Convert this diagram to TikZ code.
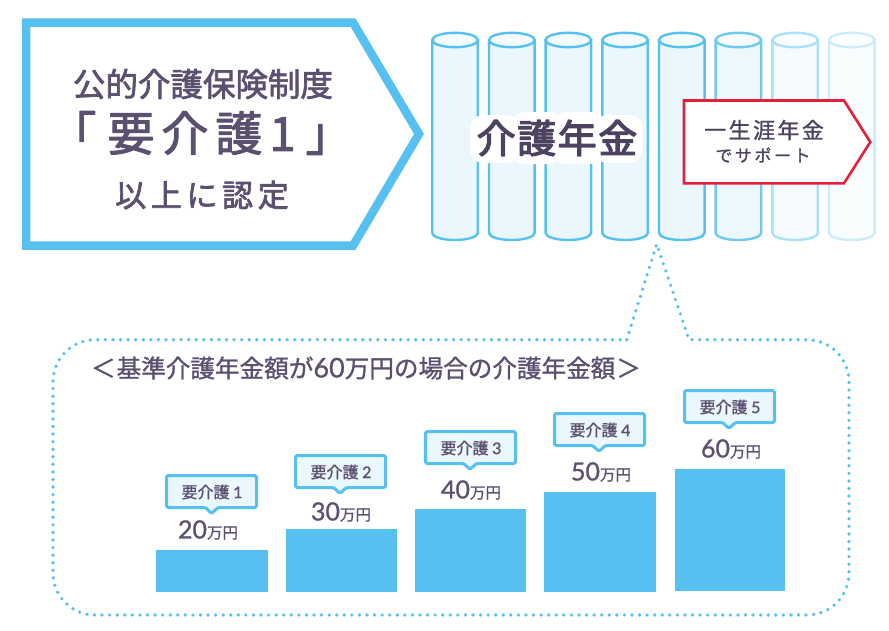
\documentclass[tikz,border=0pt]{standalone}
\usepackage{fontspec}
\setmainfont{Noto Sans CJK JP}
\newfontfamily\jp{Noto Sans CJK JP}
\newfontfamily\jpa[FakeBold=1.2]{Noto Sans CJK JP}
\newfontfamily\jpb[FakeBold=2.2]{Noto Sans CJK JP}
\newfontfamily\jpc[FakeBold=3.2]{Noto Sans CJK JP}
\newfontfamily\lat[FakeBold=1]{Lato}
\newcommand{\rnd}{\special{pdf:code 1 j 1 J}}
\definecolor{sky}{HTML}{56C1F0}
\definecolor{pale}{HTML}{EAF7FD}
\definecolor{ink}{HTML}{5C5070}
\definecolor{inkd}{HTML}{4D4360}
\definecolor{crim}{HTML}{E2203A}
\tikzset{
  x=1pt,y=-1pt,
  label/.style={inner sep=0pt,text=ink,anchor=center},
  cyl/.style={line width=2.4pt},
  bar/.style={fill=sky,draw=none},
  halo/.style={fill=white,rounded corners=13pt},
  tag/.style={draw=sky,fill=pale,line width=3pt,line join=round,rounded corners=1.5pt},
  tagtext/.style={inner sep=0pt,text=ink,anchor=center,font={\jpa\fontsize{16}{16}\selectfont}},
  amt/.style={inner sep=0pt,text=ink,anchor=center},
}
\newcommand{\amount}[1]{\rnd{\lat\fontsize{25}{25}\selectfont #1}{\jpa\fontsize{15.5}{16}\selectfont 万円}}
\newcommand{\cylinder}[3]{%
  \fill[#3] (#1,39) -- (#1+45.6,39) -- (#1+45.6,233) arc[start angle=0,end angle=180,x radius=22.8,y radius=7] -- cycle;
  \draw[cyl,draw=#2] (#1,39) -- (#1,233) arc[start angle=180,end angle=0,x radius=22.8,y radius=7] -- (#1+45.6,39);
  \draw[cyl,draw=#2,fill=white!50!#3] (#1+22.8,40) ellipse[x radius=22.8,y radius=7.2];
}
\begin{document}
\begin{tikzpicture}
\useasboundingbox (0,0) rectangle (889,630);
\draw[draw=sky,line width=8.5pt,fill=white,miter limit=10] (26,22.5) -- (353,22.5) -- (419,134) -- (353,245.7) -- (26,245.7) -- cycle;
\node[label,font={\jpb\fontsize{32.5}{33}\selectfont}] (t1) at (203,84) {\rnd 公的介護保険制度};
\node[label,font={\jpb\fontsize{47}{47}\selectfont}] (t2) at (201,133) {\rnd\addfontfeature{LetterSpace=15}「\kern11pt 要介護1\kern10pt 」};
\node[label,font={\jpb\fontsize{31}{32}\selectfont}] (t3) at (202,195) {\rnd\addfontfeature{LetterSpace=15}以上に認定};

\cylinder{432.2}{sky}{pale}
\cylinder{489}{sky}{pale}
\cylinder{545.6}{sky}{pale}
\cylinder{602.3}{sky}{pale}
\cylinder{659}{sky}{pale}
\cylinder{715.6}{sky!85}{pale!85}
\cylinder{772.3}{sky!50}{pale!50}
\cylinder{829}{sky!30}{pale!30}

\fill[halo] (470,115) rectangle (520,163);
\fill[halo] (511,112) rectangle (561,164);
\fill[halo] (553,112) rectangle (603,164);
\fill[halo] (594,115) rectangle (643,163);
\node[inner sep=0pt,text=inkd,font={\jpc\fontsize{39}{40}\selectfont}] (pen) at (557,138) {\rnd\addfontfeature{LetterSpace=4}介護年金};

\draw[draw=crim,line width=2.6pt,fill=white,miter limit=10] (684,100.5) -- (844,100.5) -- (870.3,142) -- (844,183.3) -- (684,183.3) -- cycle;
\node[label,text=inkd,font={\jpa\fontsize{22}{22}\selectfont}] (life) at (764,130) {\rnd\addfontfeature{LetterSpace=11}一生涯年金};
\node[label,text=inkd,font={\jpa\fontsize{17}{17}\selectfont}] (sup) at (763,155) {\rnd\addfontfeature{LetterSpace=15}でサポート};

\draw[sky,line width=3.7pt,line cap=round,dash pattern=on 0pt off 7.57pt]
 (626.7,339.7) -- (656.7,244) -- (689,339.7) -- (807,339.7) arc[start angle=-90,end angle=0,radius=42]
 -- (849,573) arc[start angle=0,end angle=90,radius=42]
 -- (95,615) arc[start angle=90,end angle=180,radius=42]
 -- (53,381.7) arc[start angle=180,end angle=270,radius=42] -- cycle;

\node[label,font={\jpa\fontsize{24.6}{24}\selectfont}] (title) at (366,368) {\rnd ＜\hspace{1pt}基準介護年金額が{\lat\fontsize{27}{27}\selectfont 60}万円の場合の介護年金額\hspace{1pt}＞};

\fill[bar] (156,550) rectangle (268,592);
\fill[bar] (286,529) rectangle (397,592);
\fill[bar] (415,509) rectangle (526,592);
\fill[bar] (544,492) rectangle (656,592);
\fill[bar] (675,469) rectangle (785,591);

\draw[tag] (166.5,475.5) -- (256.5,475.5) -- (256.5,507.5) -- (218,507.5) -- (211.7,513.5) -- (205.4,507.5) -- (166.5,507.5) -- cycle;
\draw[tag] (295.5,455.5) -- (385.5,455.5) -- (385.5,487.5) -- (346.3,487.5) -- (340,493.5) -- (333.7,487.5) -- (295.5,487.5) -- cycle;
\draw[tag] (425.5,431.5) -- (515.5,431.5) -- (515.5,463.5) -- (476.3,463.5) -- (470,469.5) -- (463.7,463.5) -- (425.5,463.5) -- cycle;
\draw[tag] (554.5,413.5) -- (644.5,413.5) -- (644.5,445.5) -- (605.3,445.5) -- (599,451.5) -- (592.7,445.5) -- (554.5,445.5) -- cycle;
\draw[tag] (684.5,390.5) -- (774.5,390.5) -- (774.5,422.5) -- (735.3,422.5) -- (729,428.5) -- (722.7,422.5) -- (684.5,422.5) -- cycle;

\node[tagtext] (k1) at (212,492) {\rnd 要介護 {\lat 1}};
\node[tagtext] (k2) at (341,472) {\rnd 要介護 {\lat 2}};
\node[tagtext] (k3) at (471,448) {\rnd 要介護 {\lat 3}};
\node[tagtext] (k4) at (600,430) {\rnd 要介護 {\lat 4}};
\node[tagtext] (k5) at (730,407) {\rnd 要介護 {\lat 5}};

\node[amt] (a1) at (208,530) {\amount{20}};
\node[amt] (a2) at (341,512) {\amount{30}};
\node[amt] (a3) at (471,490) {\amount{40}};
\node[amt] (a4) at (601,472) {\amount{50}};
\node[amt] (a5) at (731,449) {\amount{60}};
\end{tikzpicture}
\end{document}
